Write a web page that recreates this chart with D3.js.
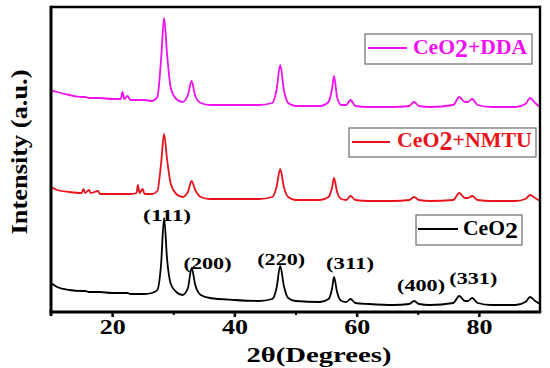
<!DOCTYPE html>
<html>
<head>
<meta charset="utf-8">
<script src="https://d3js.org/d3.v7.min.js"></script>
<style>
body { margin: 0; background: #fff; }
text { font-family: "Liberation Serif", "Times New Roman", Times, serif; font-weight: bold; }
</style>
</head>
<body>
<svg width="550" height="368"></svg>
<script>
// 2theta sample points (degrees) shared by the three patterns
const theta = [10, 11, 13, 15, 15.3, 15.6, 16.2, 16.5, 17.7, 18,
  20, 21.4, 21.7, 22.0, 22.5, 23, 24.0, 24.2, 24.5, 25.0,
  25.3, 26.5, 27.4, 28.0, 28.5, 29.0, 29.6, 30.5, 31.5, 32.4,
  33.0, 33.6, 34.5, 36, 40, 44, 46.2, 46.9, 47.5, 48.1,
  48.8, 50, 54, 55.4, 56.0, 56.3, 56.8, 57.5, 58.3, 59.0,
  59.8, 62, 66, 68.6, 69.4, 70.2, 72, 75.8, 76.8, 77.7,
  78.2, 78.9, 79.8, 82, 86, 87.6, 88.4, 89.2, 90];

// intensities (a.u.), stacked as in the figure
const ceo2 = [29, 25, 22, 21, 21, 21, 20, 20, 20, 20,
  19, 19, 19, 19, 19, 18, 18, 18, 18, 18,
  18, 19, 22, 47, 94, 52, 28, 20, 17, 24,
  44, 27, 17, 14, 12, 11, 13, 24, 46, 26,
  14, 11, 10, 13, 24, 35, 20, 11, 10, 13,
  9, 8, 7, 8, 11, 8, 7, 9, 16, 11,
  11, 14, 9, 7, 7, 10, 15, 11, 8];

const ceo2Nmtu = [125, 122, 120, 119, 123, 119, 122, 119, 121, 118,
  118, 118, 118, 118, 118, 118, 119, 127, 119, 123,
  118, 118, 121, 148, 178, 152, 128, 118, 115, 120,
  131, 122, 115, 113, 113, 113, 115, 125, 143, 125,
  115, 112, 112, 115, 125, 134, 120, 113, 112, 116,
  112, 111, 111, 112, 115, 112, 111, 112, 119, 114,
  114, 116, 112, 111, 111, 113, 117, 114, 111];

const ceo2Dda = [222, 220, 217, 215, 215, 215, 214, 214, 214, 214,
  213, 213, 220, 213, 216, 212, 212, 212, 212, 212,
  212, 211, 215, 252, 294, 257, 224, 213, 210, 217,
  231, 216, 209, 207, 207, 207, 209, 222, 247, 222,
  209, 206, 206, 210, 224, 236, 215, 207, 207, 212,
  206, 205, 205, 206, 210, 206, 205, 207, 215, 210,
  210, 213, 207, 205, 205, 208, 214, 209, 205];

const seriesNames = ["CeO2+DDA", "CeO2+NMTU", "CeO2"];
const hklLabels = ["(111)", "(200)", "(220)", "(311)", "(400)", "(331)"];
const hklTheta = [28.5, 33.0, 47.5, 56.3, 69.4, 76.8];
const xTicks = [20, 40, 60, 80];
const xMinorTicks = [30, 50, 70];

const svg = d3.select("svg");
const pLeft = 51, pRight = 540, pTop = 7, pBottom = 312;

const x = d3.scaleLinear().domain([10, 90]).range([pLeft, pRight]);
const y = d3.scaleLinear().domain([0, 305]).range([pBottom, pTop]);

// stretch text horizontally to the width seen in the figure
function fit(t, w) {
  const bb = t.node().getBBox();
  const tr = t.attr("transform") || "";
  t.attr("transform", tr + " scale(" + (w / bb.width) + ",1)");
}

// curves
const line = d3.line()
  .x((d, i) => x(theta[i]))
  .y(d => y(d))
  .curve(d3.curveMonotoneX);

const series = [
  { values: ceo2, color: "#000000" },
  { values: ceo2Nmtu, color: "#e8131b" },
  { values: ceo2Dda, color: "#f010f0" }
];
svg.append("g").selectAll("path").data(series).enter().append("path")
  .attr("d", d => line(d.values))
  .attr("fill", "none")
  .attr("stroke", d => d.color)
  .attr("stroke-width", 1.8)
  .attr("stroke-linejoin", "round");

// x axis ticks and labels
const xAxis = svg.append("g").attr("transform", "translate(0," + pBottom + ")")
  .call(d3.axisBottom(x).tickValues(xTicks).tickSize(5).tickFormat(d3.format("d")));
xAxis.select(".domain").remove();
xAxis.selectAll("line").attr("stroke-width", 2.5);
xAxis.selectAll("text")
  .attr("y", 22).attr("dy", null)
  .attr("font-size", 20.5)
  .attr("fill", "#000")
  .each(function () { fit(d3.select(this), 26); });

const xMinor = svg.append("g").attr("transform", "translate(0," + pBottom + ")")
  .call(d3.axisBottom(x).tickValues(xMinorTicks).tickSize(3).tickFormat(""));
xMinor.select(".domain").remove();
xMinor.selectAll("line").attr("stroke-width", 2);

// frame
svg.append("line").attr("x1", pLeft).attr("x2", pRight).attr("y1", pTop).attr("y2", pTop)
  .attr("stroke", "#000").attr("stroke-width", 2.4);
svg.append("line").attr("x1", pRight).attr("x2", pRight).attr("y1", pTop - 1.2).attr("y2", pBottom)
  .attr("stroke", "#000").attr("stroke-width", 2.4);
svg.append("line").attr("x1", pLeft).attr("x2", pLeft).attr("y1", pTop - 1.2).attr("y2", pBottom + 4)
  .attr("stroke", "#000").attr("stroke-width", 3);
svg.append("line").attr("x1", pLeft - 1.5).attr("x2", pRight + 1.2).attr("y1", pBottom).attr("y2", pBottom)
  .attr("stroke", "#000").attr("stroke-width", 3);

// axis titles
const xt = svg.append("text")
  .attr("transform", "translate(319,362)")
  .attr("text-anchor", "middle")
  .attr("font-size", 22)
  .text("2θ(Degrees)");
fit(xt, 145);

const yt = svg.append("text")
  .attr("transform", "translate(27,152) rotate(-90)")
  .attr("text-anchor", "middle")
  .attr("font-size", 23)
  .text("Intensity (a.u.)");
fit(yt, 165);

// peak (hkl) labels
const hklDx = [3, 16, 1, 16, 7, 14];
const hklY = [221, 269, 265, 269, 291, 284];
svg.append("g").selectAll("text").data(hklLabels).enter().append("text")
  .attr("transform", (d, i) => "translate(" + (x(hklTheta[i]) + hklDx[i]) + "," + hklY[i] + ")")
  .attr("text-anchor", "middle")
  .attr("font-size", 17)
  .text(d => d)
  .each(function () { fit(d3.select(this), 48); });

// legends, one box per pattern
const legends = [
  { name: seriesNames[0], color: "#f010f0", box: [365, 34, 167, 30], line: [368, 407, 48], tx: 413, ty: 54, fs: 21, w: 115 },
  { name: seriesNames[1], color: "#e8131b", box: [349, 128, 187, 29], line: [352, 390, 142], tx: 397, ty: 147, fs: 22, w: 135 },
  { name: seriesNames[2], color: "#000000", box: [416, 215, 106, 30], line: [418, 458, 229], tx: 463, ty: 235, fs: 20, w: 55 }
];
legends.forEach(l => {
  const g = svg.append("g");
  g.append("rect")
    .attr("x", l.box[0]).attr("y", l.box[1]).attr("width", l.box[2]).attr("height", l.box[3])
    .attr("fill", "#fff").attr("stroke", "#6a6a6a").attr("stroke-width", 1.2);
  g.append("line")
    .attr("x1", l.line[0]).attr("x2", l.line[1]).attr("y1", l.line[2]).attr("y2", l.line[2])
    .attr("stroke", l.color).attr("stroke-width", 2);
  const t = g.append("text")
    .attr("transform", "translate(" + l.tx + "," + l.ty + ")")
    .attr("font-size", l.fs)
    .attr("fill", l.color);
  const parts = l.name.split("2");
  t.append("tspan").text(parts[0]);
  t.append("tspan").attr("font-size", l.fs * 1.2).attr("dy", 3).text("2");
  if (parts[1]) t.append("tspan").attr("font-size", l.fs).attr("dy", -3).text(parts[1]);
  fit(t, l.w);
});
</script>
</body>
</html>
